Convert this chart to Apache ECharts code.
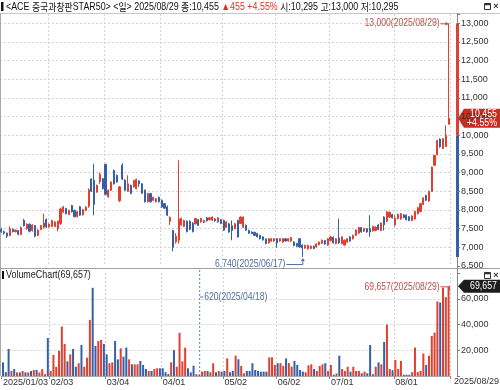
<!DOCTYPE html>
<html><head><meta charset="utf-8">
<script src="https://cdn.jsdelivr.net/npm/echarts@6/dist/echarts.min.js"></script>
<style>html,body{margin:0;padding:0;background:#fff}#c{width:500px;height:390px}</style>
</head><body><div id="c"></div>
<script>
const NAME = 'ACE 중국과창판STAR50';
const YEAR = '2025';
const dates = [
'01/03','01/06','01/07','01/08','01/09','01/10','01/13','01/14','01/15','01/16','01/17','01/20','01/21','01/22','01/23','01/24','01/31',
'02/03','02/04','02/05','02/06','02/07','02/10','02/11','02/12','02/13','02/14','02/17','02/18','02/19','02/20','02/21','02/24','02/25','02/26','02/27','02/28',
'03/04','03/05','03/06','03/07','03/10','03/11','03/12','03/13','03/14','03/17','03/18','03/19','03/20','03/21','03/24','03/25','03/26','03/27','03/28','03/31',
'04/01','04/02','04/03','04/04','04/07','04/08','04/09','04/10','04/11','04/14','04/15','04/16','04/17','04/18','04/21','04/22','04/23','04/24','04/25','04/28','04/29','04/30',
'05/02','05/07','05/08','05/09','05/12','05/13','05/14','05/15','05/16','05/19','05/20','05/21','05/22','05/23','05/26','05/27','05/28','05/29','05/30',
'06/02','06/04','06/05','06/09','06/10','06/11','06/12','06/13','06/16','06/17','06/18','06/19','06/20','06/23','06/24','06/25','06/26','06/27','06/30',
'07/01','07/02','07/03','07/04','07/07','07/08','07/09','07/10','07/11','07/14','07/15','07/16','07/17','07/18','07/21','07/22','07/23','07/24','07/25','07/28','07/29','07/30','07/31',
'08/01','08/04','08/05','08/06','08/07','08/08','08/11','08/12','08/13','08/14','08/18','08/19','08/20','08/21','08/22','08/25','08/26','08/27','08/28','08/29'];

const opens = [
7480,7420,7380,7320,7480,7420,7450,7340,7720,7500,
7620,7450,7580,7320,7480,7540,7750,7550,7560,7560,
7500,7640,7950,8040,7880,8120,7990,7820,8090,7870,
7990,8100,8830,8800,8480,8760,8840,9220,8350,8530,
9060,8930,8250,9200,8800,8500,8660,8620,8570,8780,
8700,8530,8220,8440,8260,8220,8340,8260,8170,8080,
7700,7450,7150,7190,7600,7560,7700,7700,7650,7630,
7740,7680,7670,7790,7740,7730,7760,7680,7740,7720,
7540,7630,7580,7500,7720,7640,7540,7590,7450,7410,
7400,7370,7320,7280,7220,7120,7170,7170,7230,7170,
7140,7230,7170,7170,7140,7100,7230,7060,6980,6960,
6970,7030,7010,7070,7110,7180,7060,7180,7270,7100,
7250,7100,7060,7140,7280,7230,7320,7380,7530,7430,
7500,7500,7440,7450,7600,7450,7810,7700,7810,7880,
7600,7770,7760,7870,7860,7820,7720,7760,7900,7960,
8150,8390,8240,8500,9200,9480,9900,9650,9700,10295];
const closes = [
7420,7380,7300,7500,7420,7460,7350,7530,7580,7620,
7430,7600,7300,7460,7580,7650,7550,7620,7720,7680,
7700,8030,8080,7900,7990,7950,7820,7950,7860,8010,
8080,8540,8500,8150,8660,8950,8570,8420,8530,8750,
8700,8750,8620,8830,8530,8700,8440,8790,8820,8700,
8450,8220,8440,8220,8340,8300,8220,8080,8050,7860,
7800,7000,7300,7760,7770,7720,7420,7480,7420,7770,
7590,7770,7720,7710,7790,7810,7710,7790,7640,7460,
7680,7410,7450,7630,7280,7810,7810,7460,7380,7370,
7320,7280,7230,7200,7100,7230,7230,7230,7120,7230,
7230,7170,7230,7260,7050,7030,7010,6980,7050,7050,
7030,6970,7090,7140,7190,7090,7230,7280,7120,7230,
7120,7280,7190,7230,7170,7320,7460,7530,7410,7500,
7410,7410,7560,7540,7480,7650,7600,7950,7940,7790,
7780,7880,7900,7800,7740,7720,7840,7960,8060,8170,
8320,8260,8500,9150,9460,9860,9690,9910,10000,10455];
const lows = [
7390,7340,7250,7300,7400,7400,7320,7330,7560,7470,
7400,7420,7270,7300,7460,7500,7520,7530,7540,7540,
7430,7600,7920,7880,7860,7930,7800,7800,7840,7850,
7970,8060,8480,7860,8460,8700,8550,8390,8330,8510,
8680,8730,8210,8800,8510,8480,8420,8600,8550,8620,
8430,8200,8200,8200,8240,8200,8200,8060,8030,7840,
7600,6890,7100,7100,7580,7540,7400,7460,7400,7610,
7570,7660,7650,7690,7720,7710,7690,7660,7620,7440,
7520,7390,7190,7480,7260,7620,7520,7440,7360,7350,
7300,7260,7210,7180,7080,7100,7150,7150,6990,7150,
7120,7150,7150,7150,7030,7010,6990,6740,6960,6940,
6950,6950,6990,7050,7090,7070,7040,7160,7100,7080,
7090,7080,7040,7120,7150,7210,7300,7360,7390,7410,
7390,7280,7420,7430,7460,7430,7450,7680,7790,7770,
7560,7750,7740,7780,7720,7700,7700,7740,7880,7940,
8130,8240,8220,8480,9180,9460,9670,9630,9690,10295];
const highs = [
7520,7450,7400,7560,7500,7480,7460,7560,7760,7640,
7640,7620,7600,7480,7600,7900,7770,7640,7740,7700,
7720,8060,8110,8060,8010,8140,8010,7970,8110,8030,
8100,8580,8850,9240,8680,9000,8860,9240,8550,8770,
9080,8950,8640,9250,8820,8930,8680,8810,8840,8800,
8720,8550,8460,8460,8360,8320,8360,8280,8190,8120,
7830,7470,7380,9330,7800,7740,7720,7720,7670,7790,
7760,7790,7740,7810,7810,7830,7780,7810,7760,7740,
7700,7650,7720,7650,7740,7830,7830,7610,7470,7430,
7420,7390,7340,7300,7240,7250,7250,7250,7250,7250,
7250,7250,7250,7280,7160,7120,7250,7080,7070,7070,
7050,7050,7110,7160,7210,7200,7250,7300,7290,7250,
7770,7300,7210,7250,7300,7340,7480,7550,7550,7520,
7520,7860,7580,7560,7620,7670,7830,7970,7960,7900,
7860,7900,7920,7890,7880,7840,7860,7980,8080,8190,
8340,8410,8520,9160,9480,9880,9920,9930,10270,13000];
const volumes = [
10600,3000,21000,3900,5400,2800,2800,3900,2800,2800,
3900,4700,4700,2800,5400,1500,29500,3900,16300,7200,
19500,38400,24900,11400,16800,21000,7200,9900,24100,7200,
14200,43600,68500,23300,27200,28000,24900,16800,9900,10600,
27200,12900,21500,15000,22100,12900,9100,9100,9100,11700,
8600,5400,3900,3900,5400,6000,6000,6000,3000,1500,
10600,20200,7200,33500,11400,22000,6000,2800,8000,1500,
620,3400,3900,3900,2900,9900,2900,3900,3400,3900,
13700,2900,3900,15800,13000,7800,2100,3900,3900,9900,
4700,3900,3400,3400,3400,14500,14500,8600,9900,9900,
7800,13700,10100,7300,11700,8600,4700,3400,2900,8300,
9100,5400,3900,7800,9100,9900,3900,8600,1000,2000,
15800,5400,3900,7200,3400,7200,3900,3900,2100,3400,
2100,24100,1500,7200,10600,9100,26400,39900,5400,4500,
12500,5500,11700,1000,1000,1000,3000,22100,3000,3900,
17500,8600,15800,31100,33700,57900,57100,68500,61300,69657];
const priceTicks = {min: 6500, max: 13250, step: 500, top: 13000};
const volTicks = {min: 0, max: 80000, step: 20000, top: 60000};

const UP = '#e0402f', DOWN = '#3560a8';
const FL = '"Liberation Sans",Arial,sans-serif';
const FK = '"Noto Sans CJK KR",sans-serif';
const NARROW = 0.82;
const fmt = v => v.toLocaleString('en-US');
const n = dates.length;
const monthStart = dates.map((d, i) => i > 0 && d.slice(0, 2) !== dates[i - 1].slice(0, 2));
const G1 = {left: 0, top: 14, width: 450, height: 252};
const G2 = {left: 0, top: 273, width: 450, height: 103};
const OFF = 7;
const AX = G1.left + G1.width + OFF;
const gridDash = {color: '#d4d4d4', type: [2, 2], width: 1};

const candleData = dates.map((d, i) => [opens[i], closes[i], lows[i], highs[i]]);
const volData = volumes.map((v, i) => ({value: v, itemStyle: {color: closes[i] >= opens[i] ? UP : DOWN}}));

const option = {
  animation: false,
  backgroundColor: '#fff',
  grid: [Object.assign({}, G1), Object.assign({}, G2)],
  xAxis: [
    {type: 'category', gridIndex: 0, data: dates, boundaryGap: true,
     axisLine: {show: false}, axisTick: {show: false}, axisLabel: {show: false},
     splitLine: {show: true, interval: i => monthStart[i], lineStyle: gridDash}},
    {type: 'category', gridIndex: 1, data: dates, boundaryGap: true,
     axisLine: {show: true, lineStyle: {color: '#aaa'}},
     axisTick: {show: true, length: 3, interval: i => i === 0 || monthStart[i], lineStyle: {color: '#888'}},
     axisLabel: {interval: i => i === 0 || monthStart[i], formatter: (v, i) => i === 0 ? YEAR + '/' + v : v,
       showMinLabel: true, hideOverlap: false,
       align: 'left', margin: 2, fontSize: 9, fontFamily: FL, color: '#333'},
     splitLine: {show: true, interval: i => monthStart[i], lineStyle: gridDash}}
  ],
  yAxis: [
    {type: 'value', gridIndex: 0, position: 'right', offset: OFF, min: priceTicks.min, max: priceTicks.max, interval: priceTicks.step,
     axisLine: {show: false}, axisTick: {show: true, length: 3, lineStyle: {color: '#777'}},
     axisLabel: {margin: 4, fontSize: 9, fontFamily: FL, color: '#333',
       formatter: v => (v % priceTicks.step === 0 && v <= priceTicks.top) ? fmt(v) : ''},
     splitLine: {show: true, showMaxLine: false, showMinLine: false, lineStyle: gridDash}},
    {type: 'value', gridIndex: 1, position: 'right', offset: OFF, min: volTicks.min, max: volTicks.max, interval: volTicks.step,
     axisLine: {show: false}, axisTick: {show: true, length: 3, lineStyle: {color: '#777'}},
     axisLabel: {margin: 4, fontSize: 9, fontFamily: FL, color: '#333',
       formatter: v => (v > 0 && v <= volTicks.top) ? fmt(v) : ''},
     splitLine: {show: true, showMaxLine: false, showMinLine: false, lineStyle: gridDash}}
  ],
  series: [
    {type: 'candlestick', xAxisIndex: 0, yAxisIndex: 0, data: candleData, barWidth: 1.6,
     itemStyle: {color: UP, color0: DOWN, borderColor: UP, borderColor0: DOWN, borderWidth: 1}},
    {type: 'bar', xAxisIndex: 1, yAxisIndex: 1, data: volData, barWidth: 2}
  ]
};

const chart = echarts.init(document.getElementById('c'));
chart.setOption(option);

const pp = (i, v) => chart.convertToPixel({xAxisIndex: 0, yAxisIndex: 0}, [i, v]);
const pv = (i, v) => chart.convertToPixel({xAxisIndex: 1, yAxisIndex: 1}, [i, v]);
const g = [];
const line = (x1, y1, x2, y2, stroke, w, dash) => g.push({type: 'line', silent: true, shape: {x1, y1, x2, y2}, style: {stroke, lineWidth: w || 1, lineDash: dash || null}});
const rect = (x, y, width, height, style) => g.push({type: 'rect', silent: true, shape: {x, y, width, height}, style});
const poly = (points, fill) => g.push({type: 'polygon', silent: true, shape: {points}, style: {fill}});
const text = (x, y, t, fill, size, align, sx, extra) => g.push({type: 'text', silent: true, z: 10, x, y, scaleX: sx || 1,
  style: Object.assign({x: 0, y: 0, text: t, fill, fontSize: size, fontFamily: FL, align: align || 'left', verticalAlign: 'middle'}, extra || {})});

const rich = (s, latin, kor) => s.split(/([\uAC00-\uD7A3]+)/).filter(p => p.length)
  .map(p => '{' + (/[\uAC00-\uD7A3]/.test(p) ? kor : latin) + '|' + p + '}').join('');

// frame
const volTop = G2.top, volBot = G2.top + G2.height;
line(0, 13.5, 500, 13.5, '#c8c8c8');
line(0.5, 13, 0.5, volBot, '#aaa');
line(0, 268.5, 500, 268.5, '#a0a0a0');
line(AX + 0.5, 13, AX + 0.5, volBot, '#8a8a8a');

// header
const last = n - 1;
const prev = closes[last - 1];
const chg = closes[last] - prev;
const pct = (chg / prev * 100).toFixed(2);
rect(1, 2, 2.5, 9, {fill: '#111'});
const hdr = rich('<' + NAME + '> <일> ' + YEAR + '/' + dates[last] + ' 종:' + fmt(closes[last]) + ' ', 't', 'k') +
  rich('▲' + fmt(chg) + ' +' + pct + '%', 'r', 'k') +
  rich(' 시:' + fmt(opens[last]) + ' 고:' + fmt(highs[last]) + ' 저:' + fmt(lows[last]), 't', 'k');
text(6, 7.5, hdr, '#111', 10.5, 'left', 0.845, {rich: {
  t: {fill: '#111', fontSize: 10.5, fontFamily: FL},
  r: {fill: '#e03325', fontSize: 10.5, fontFamily: FL},
  k: {fill: '#111', fontSize: 10.5, fontFamily: FK}}});
[3, 272].forEach(y0 => {
  rect(484.5, y0 + 0.5, 6, 6, {fill: 'none', stroke: '#333', lineWidth: 1});
  line(484.5, y0 + 1.5, 490.5, y0 + 1.5, '#333', 1.5);
  text(496, y0 + 3.5, '×', '#333', 9, 'center', 1, {fontWeight: 'bold'});
});

// volume header
rect(2, 271, 2, 8, {fill: '#111'});
text(6, 275.5, 'VolumeChart(' + fmt(volumes[last]) + ')', '#222', 10.5, 'left', 0.85);

// last date label
text(499, 382, YEAR + '/' + dates[last], '#333', 9, 'right');

// axis range bar (split at previous close)
let hiIdx = 0, loIdx = 0;
highs.forEach((v, i) => { if (v > highs[hiIdx]) hiIdx = i; });
lows.forEach((v, i) => { if (v < lows[loIdx]) loIdx = i; });
const yHi = pp(hiIdx, highs[hiIdx])[1], yLo = pp(loIdx, lows[loIdx])[1], yPrev = pp(last, prev)[1];
rect(AX - 1, yHi, 3, yPrev - yHi, {fill: UP});
rect(AX - 1, yPrev, 3, yLo - yPrev, {fill: DOWN});

// price tag
const yC = pp(last, closes[last])[1];
poly([[AX + 1, yC], [AX + 7, yC - 9.5], [500, yC - 9.5], [500, yC + 9.5], [AX + 7, yC + 9.5]], '#c62d25');
text(497, yC - 4.5, fmt(closes[last]), '#fff', 10, 'right', 0.88);
text(497, yC + 4.5, '+' + pct + '%', '#fff', 10, 'right', 0.88);

// max price annotation
const [xH, yH] = pp(hiIdx, highs[hiIdx]);
const cMax = '#c0504d', cMin = '#4f6fa0';
text(xH - 9, yH, fmt(highs[hiIdx]) + '(' + YEAR + '/' + dates[hiIdx] + ')', cMax, 10.5, 'right', NARROW);
line(xH - 8, yH + 0.5, xH - 1, yH + 0.5, cMax);
poly([[xH, yH + 0.5], [xH - 3, yH - 1.5], [xH - 3, yH + 2.5]], cMax);

// min price annotation
const [xL, yL] = pp(loIdx, lows[loIdx]);
const yMinLine = yL + 7.5;
text(xL - 17, yMinLine, fmt(lows[loIdx]) + '(' + YEAR + '/' + dates[loIdx] + ')', cMin, 10.5, 'right', NARROW);
line(xL - 16, yMinLine, xL + 0.5, yMinLine, cMin);
line(xL + 0.5, yMinLine, xL + 0.5, yL + 2, cMin);
poly([[xL + 0.5, yL + 1], [xL - 1.5, yL + 4], [xL + 2.5, yL + 4]], cMin);

// volume max / min
let vMax = 0, vMin = 0;
volumes.forEach((v, i) => { if (v > volumes[vMax]) vMax = i; if (v < volumes[vMin]) vMin = i; });
const [xVM, yVM] = pv(vMax, volumes[vMax]);
text(xVM - 9, yVM + 1, fmt(volumes[vMax]) + '(' + YEAR + '/' + dates[vMax] + ')', cMax, 10.5, 'right', NARROW);
line(xVM - 8, yVM + 0.5, xVM + 1, yVM + 0.5, cMax);
line(xVM + 1, yVM + 0.5, xVM + 1, yVM + 4, cMax);
const [xVm] = pv(vMin, volumes[vMin]);
line(xVm + 0.5, 270, xVm + 0.5, volBot, '#6a7fa8', 1, [2, 2]);
line(xVm + 1, volTop + 24, xVm + 4, volTop + 24, cMin);
text(xVm + 5, volTop + 24, fmt(volumes[vMin]) + '(' + YEAR + '/' + dates[vMin] + ')', cMin, 10.5, 'left', NARROW);

// volume tag
const yVL = pv(last, volumes[last])[1];
poly([[AX + 1, yVL], [AX + 7, yVL - 6.5], [500, yVL - 6.5], [500, yVL + 6.5], [AX + 7, yVL + 6.5]], '#1c1c1c');
text(497, yVL, fmt(volumes[last]), '#fff', 10, 'right', 0.88);

chart.setOption({graphic: g});
</script>
</body></html>
